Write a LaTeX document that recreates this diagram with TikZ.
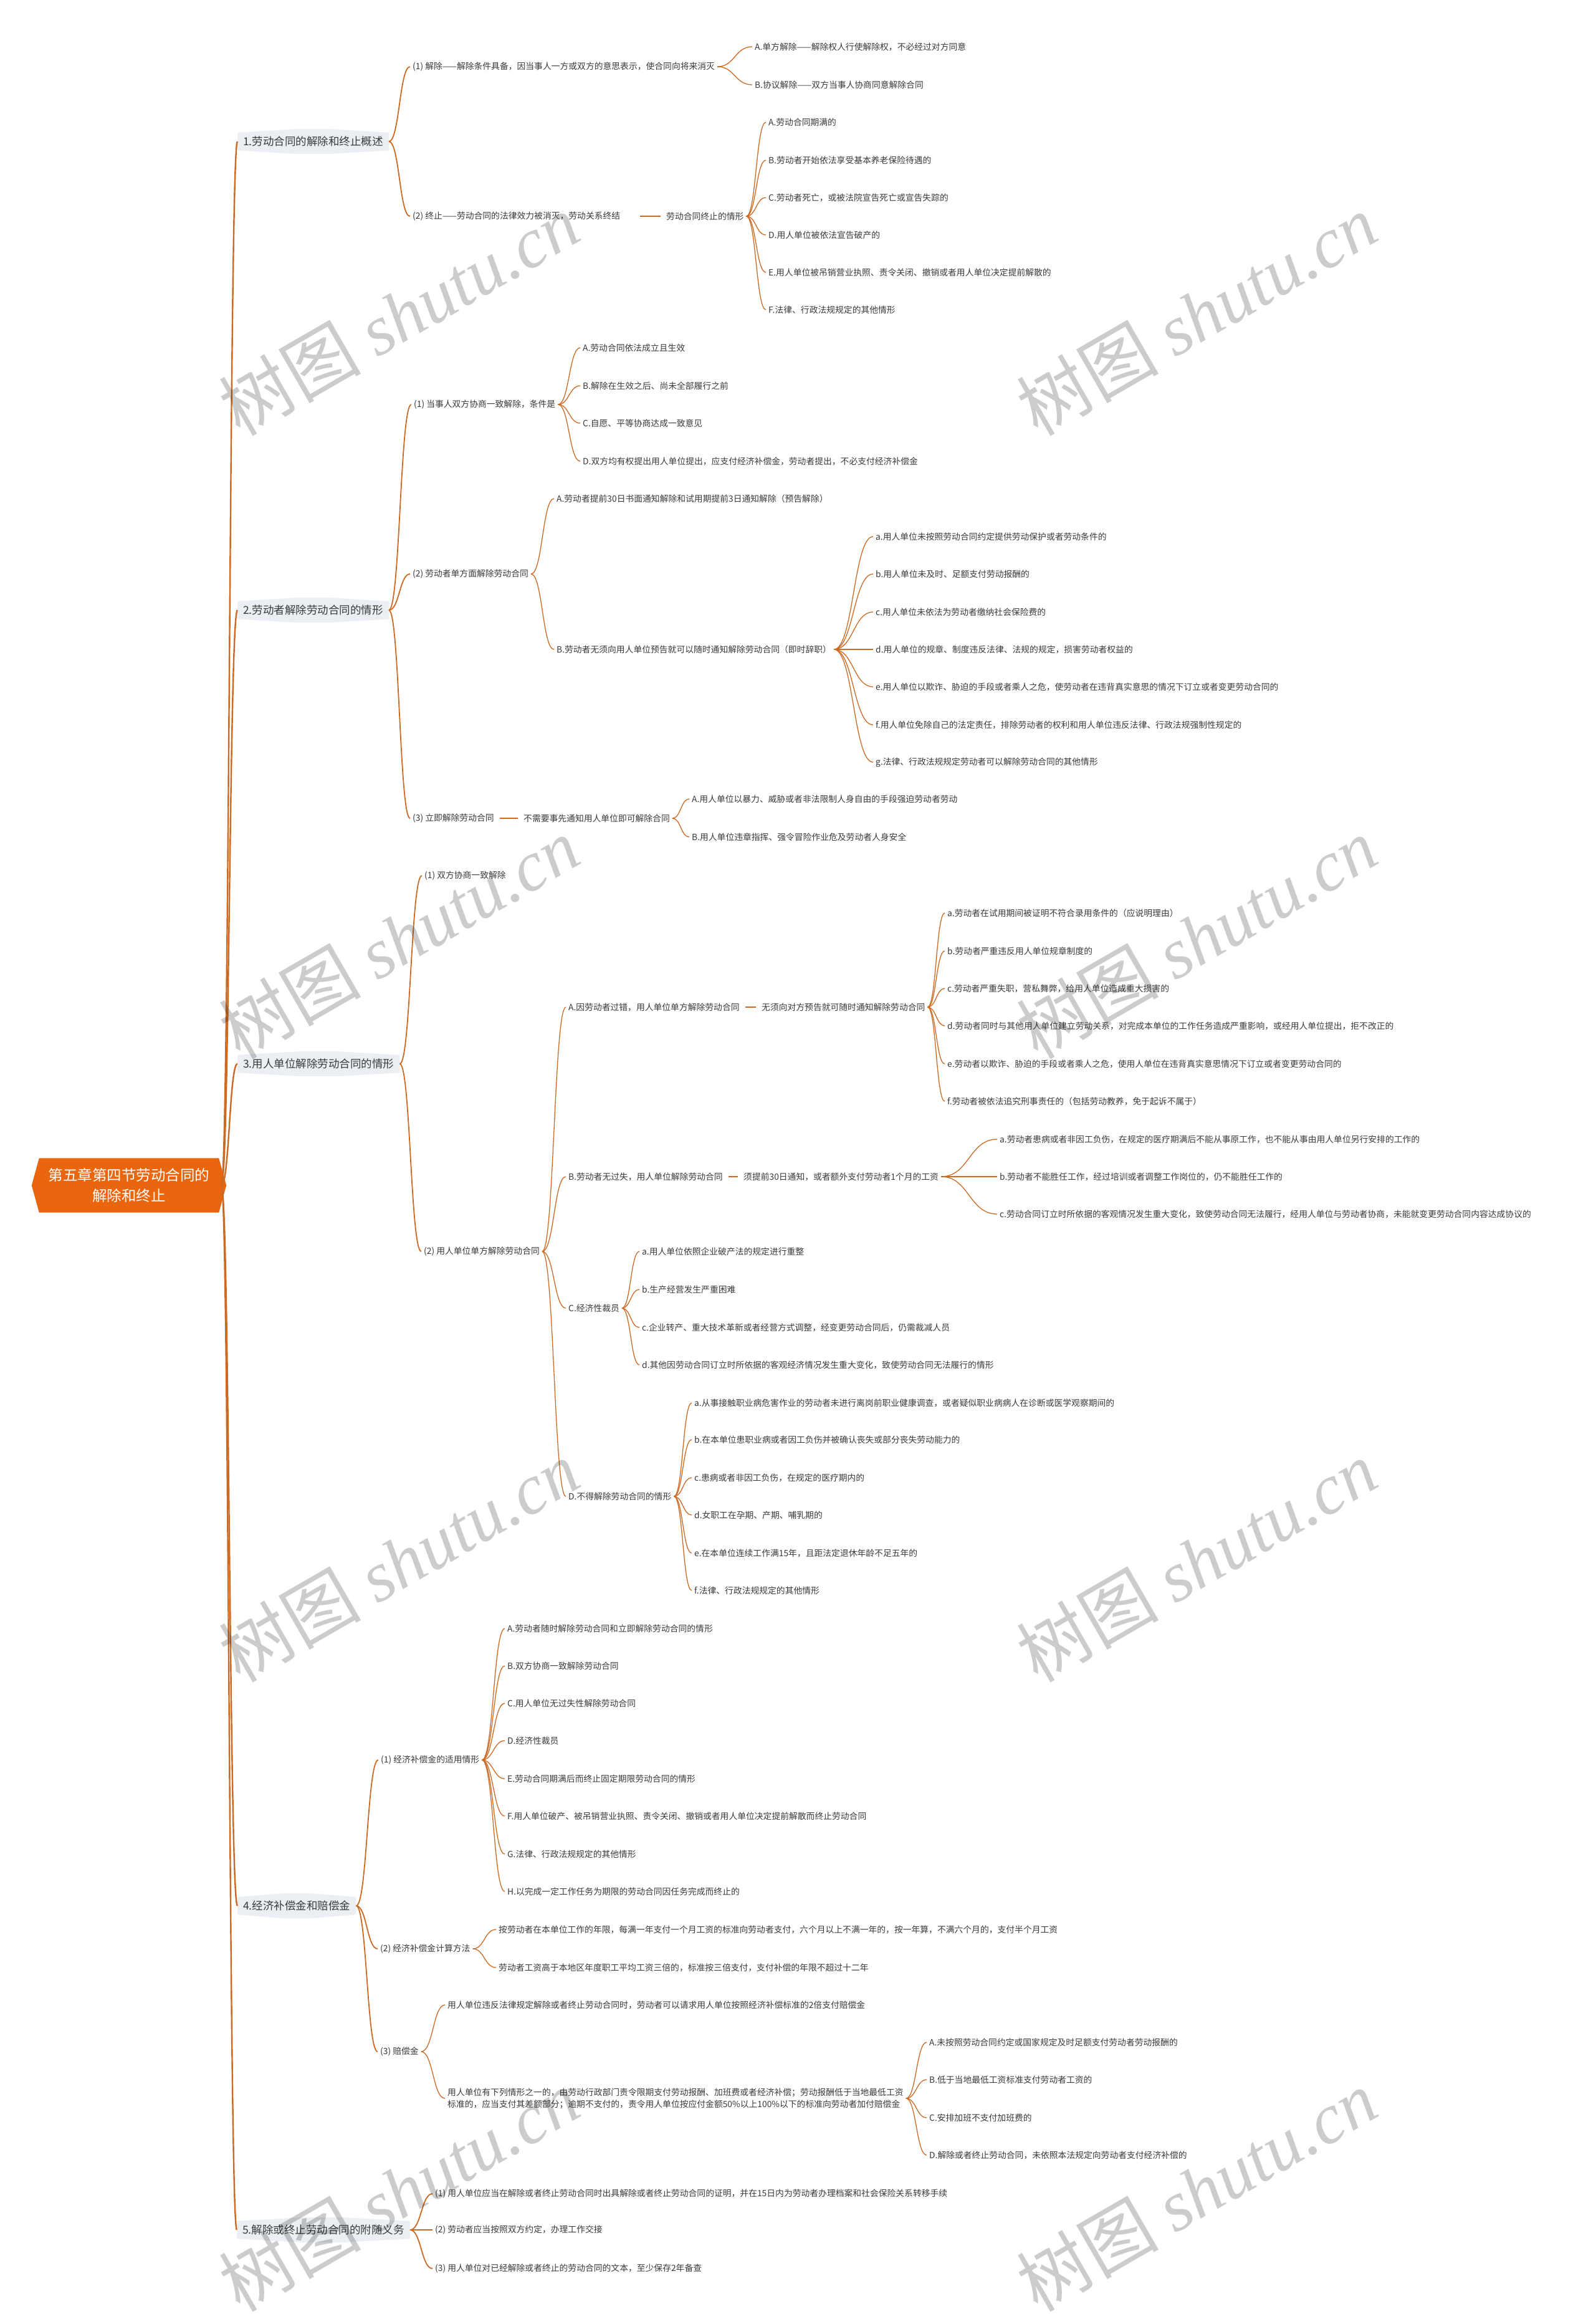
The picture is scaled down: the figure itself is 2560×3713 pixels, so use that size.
\documentclass[tikz,border=0pt]{standalone}
\usepackage{fontspec}
\setmainfont{Noto Sans CJK SC}
\newfontfamily\wmcjk{Noto Sans CJK SC}
\newfontfamily\wmlat{Liberation Serif}
\usetikzlibrary{calc,backgrounds}
\definecolor{lc}{HTML}{CC6A24}
\definecolor{txt}{HTML}{3A3A3A}
\definecolor{boxf}{HTML}{EBEFF4}
\definecolor{rootf}{HTML}{E9660E}
\tikzset{
  lf/.style={anchor=west, xshift=-4pt, inner xsep=4pt, inner ysep=2pt, text=txt, font=\fontsize{13.8}{17}\selectfont},
  lone/.style={anchor=west, xshift=-9pt, inner xsep=9pt, inner ysep=0pt, minimum height=40pt, text=txt, font=\fontsize{17.5}{21}\selectfont},
  rootn/.style={minimum width=296pt, minimum height=87pt, inner sep=0pt, align=center, text=white, font=\fontsize{23.5}{33}\selectfont},
  lnk/.style={draw=lc, line width=1.3pt},
  mlnk/.style={draw=lc, line width=1.8pt},
  tlnk/.style={draw=lc, line width=2.4pt},
  dsh/.style={draw=lc, line width=2.4pt, shorten >=5pt},
  wmk/.style={rotate=30, text=black, text opacity=0.2, font=\fontsize{114}{114}\selectfont},
}
\newcommand\mylk[3][lnk]{%
  \path ($(#2.east)!0.5!(#3.west)$) coordinate (lkm);
  \draw[#1] (#2.east) .. controls (lkm |- #2.east) and (lkm |- #3.west) .. (#3.west);}
\newcommand\mydash[3][5pt]{\draw[dsh, shorten <=#1] (#2.east) -- (#3.west);}
\newcommand\lonebox[1]{%
  \fill[boxf] ([yshift=-6pt]#1.north west) -- ($(#1.north west)!0.4!(#1.north east)$) -- ($(#1.north west)!0.6!(#1.north east)$) -- ([yshift=-6pt]#1.north east) -- ([yshift=6pt]#1.south east) -- ($(#1.south west)!0.6!(#1.south east)$) -- ($(#1.south west)!0.4!(#1.south east)$) -- ([yshift=6pt]#1.south west) -- cycle;}
\newcommand\wmark[2]{\node[wmk] at (#1,#2) {{\wmcjk 树图} {\wmlat\itshape shutu.cn}};}
\begin{document}
\begin{tikzpicture}[x=1pt,y=-1pt]
\begin{pgfonlayer}{background}
\fill[white] (0,0) rectangle (2560,3713);
\end{pgfonlayer}
\useasboundingbox (0,0) rectangle (2560,3713);

% root
\node[rootn] (r) at (207,1902) {第五章第四节劳动合同的\\解除和终止};

% ---------- section 1
\node[lone] (n1) at (390,227) {1.劳动合同的解除和终止概述};
\node[lf] (n1a) at (662,107) {(1) 解除——解除条件具备，因当事人一方或双方的意思表示，使合同向将来消灭};
\node[lf] (n1aA) at (1211,75) {A.单方解除——解除权人行使解除权，不必经过对方同意};
\node[lf] (n1aB) at (1211,136) {B.协议解除——双方当事人协商同意解除合同};
\node[lf] (n1b) at (662,347) {(2) 终止——劳动合同的法律效力被消灭，劳动关系终结};
\node[lf] (n1b1) at (1069,347) {劳动合同终止的情形};
\node[lf] (n1bA) at (1233,196) {A.劳动合同期满的};
\node[lf] (n1bB) at (1233,257) {B.劳动者开始依法享受基本养老保险待遇的};
\node[lf] (n1bC) at (1233,317) {C.劳动者死亡，或被法院宣告死亡或宣告失踪的};
\node[lf] (n1bD) at (1233,377) {D.用人单位被依法宣告破产的};
\node[lf] (n1bE) at (1233,437) {E.用人单位被吊销营业执照、责令关闭、撤销或者用人单位决定提前解散的};
\node[lf] (n1bF) at (1233,497) {F.法律、行政法规规定的其他情形};

% ---------- section 2
\node[lone] (n2) at (390,979) {2.劳动者解除劳动合同的情形};
\node[lf] (n2a) at (664,649) {(1) 当事人双方协商一致解除，条件是};
\node[lf] (n2aA) at (935,558) {A.劳动合同依法成立且生效};
\node[lf] (n2aB) at (935,619) {B.解除在生效之后、尚未全部履行之前};
\node[lf] (n2aC) at (935,679) {C.自愿、平等协商达成一致意见};
\node[lf] (n2aD) at (935,740) {D.双方均有权提出用人单位提出，应支付经济补偿金，劳动者提出，不必支付经济补偿金};
\node[lf] (n2b) at (662,921) {(2) 劳动者单方面解除劳动合同};
\node[lf] (n2bA) at (893,800) {A.劳动者提前30日书面通知解除和试用期提前3日通知解除（预告解除）};
\node[lf] (n2bB) at (893,1042) {B.劳动者无须向用人单位预告就可以随时通知解除劳动合同（即时辞职）};
\node[lf] (n2ba) at (1405,861) {a.用人单位未按照劳动合同约定提供劳动保护或者劳动条件的};
\node[lf] (n2bb) at (1405,921) {b.用人单位未及时、足额支付劳动报酬的};
\node[lf] (n2bc) at (1405,982) {c.用人单位未依法为劳动者缴纳社会保险费的};
\node[lf] (n2bd) at (1405,1042) {d.用人单位的规章、制度违反法律、法规的规定，损害劳动者权益的};
\node[lf] (n2be) at (1405,1102) {e.用人单位以欺诈、胁迫的手段或者乘人之危，使劳动者在违背真实意思的情况下订立或者变更劳动合同的};
\node[lf] (n2bf) at (1405,1163) {f.用人单位免除自己的法定责任，排除劳动者的权利和用人单位违反法律、行政法规强制性规定的};
\node[lf] (n2bg) at (1405,1223) {g.法律、行政法规规定劳动者可以解除劳动合同的其他情形};
\node[lf] (n2c) at (662,1313) {(3) 立即解除劳动合同};
\node[lf] (n2c1) at (840,1313) {不需要事先通知用人单位即可解除合同};
\node[lf] (n2cA) at (1110,1282) {A.用人单位以暴力、威胁或者非法限制人身自由的手段强迫劳动者劳动};
\node[lf] (n2cB) at (1110,1343) {B.用人单位违章指挥、强令冒险作业危及劳动者人身安全};

% ---------- section 3
\node[lone] (n3) at (390,1707) {3.用人单位解除劳动合同的情形};
\node[lf] (n3a) at (681,1405) {(1) 双方协商一致解除};
\node[lf] (n3b) at (680,2008) {(2) 用人单位单方解除劳动合同};
\node[lf] (n3A) at (912,1616) {A.因劳动者过错，用人单位单方解除劳动合同};
\node[lf] (n3A1) at (1222,1616) {无须向对方预告就可随时通知解除劳动合同};
\node[lf] (n3Aa) at (1520,1465) {a.劳动者在试用期间被证明不符合录用条件的（应说明理由）};
\node[lf] (n3Ab) at (1520,1526) {b.劳动者严重违反用人单位规章制度的};
\node[lf] (n3Ac) at (1520,1586) {c.劳动者严重失职，营私舞弊，给用人单位造成重大损害的};
\node[lf] (n3Ad) at (1520,1646) {d.劳动者同时与其他用人单位建立劳动关系，对完成本单位的工作任务造成严重影响，或经用人单位提出，拒不改正的};
\node[lf] (n3Ae) at (1520,1707) {e.劳动者以欺诈、胁迫的手段或者乘人之危，使用人单位在违背真实意思情况下订立或者变更劳动合同的};
\node[lf] (n3Af) at (1520,1767) {f.劳动者被依法追究刑事责任的（包括劳动教养，免于起诉不属于）};
\node[lf] (n3B) at (912,1888) {B.劳动者无过失，用人单位解除劳动合同};
\node[lf] (n3B1) at (1193,1888) {须提前30日通知，或者额外支付劳动者1个月的工资};
\node[lf] (n3Ba) at (1604,1828) {a.劳动者患病或者非因工负伤，在规定的医疗期满后不能从事原工作，也不能从事由用人单位另行安排的工作的};
\node[lf] (n3Bb) at (1604,1888) {b.劳动者不能胜任工作，经过培训或者调整工作岗位的，仍不能胜任工作的};
\node[lf] (n3Bc) at (1604,1948) {c.劳动合同订立时所依据的客观情况发生重大变化，致使劳动合同无法履行，经用人单位与劳动者协商，未能就变更劳动合同内容达成协议的};
\node[lf] (n3C) at (912,2099) {C.经济性裁员};
\node[lf] (n3Ca) at (1030,2008) {a.用人单位依照企业破产法的规定进行重整};
\node[lf] (n3Cb) at (1030,2069) {b.生产经营发生严重困难};
\node[lf] (n3Cc) at (1030,2130) {c.企业转产、重大技术革新或者经营方式调整，经变更劳动合同后，仍需裁减人员};
\node[lf] (n3Cd) at (1030,2190) {d.其他因劳动合同订立时所依据的客观经济情况发生重大变化，致使劳动合同无法履行的情形};
\node[lf] (n3D) at (912,2401) {D.不得解除劳动合同的情形};
\node[lf] (n3Da) at (1114,2251) {a.从事接触职业病危害作业的劳动者未进行离岗前职业健康调查，或者疑似职业病病人在诊断或医学观察期间的};
\node[lf] (n3Db) at (1114,2310) {b.在本单位患职业病或者因工负伤并被确认丧失或部分丧失劳动能力的};
\node[lf] (n3Dc) at (1114,2371) {c.患病或者非因工负伤，在规定的医疗期内的};
\node[lf] (n3Dd) at (1114,2431) {d.女职工在孕期、产期、哺乳期的};
\node[lf] (n3De) at (1114,2492) {e.在本单位连续工作满15年，且距法定退休年龄不足五年的};
\node[lf] (n3Df) at (1114,2552) {f.法律、行政法规规定的其他情形};

% ---------- section 4
\node[lone] (n4) at (390,3058) {4.经济补偿金和赔偿金};
\node[lf] (n4a) at (611,2824) {(1) 经济补偿金的适用情形};
\node[lf] (n4aA) at (814,2613) {A.劳动者随时解除劳动合同和立即解除劳动合同的情形};
\node[lf] (n4aB) at (814,2673) {B.双方协商一致解除劳动合同};
\node[lf] (n4aC) at (814,2733) {C.用人单位无过失性解除劳动合同};
\node[lf] (n4aD) at (814,2793) {D.经济性裁员};
\node[lf] (n4aE) at (814,2854) {E.劳动合同期满后而终止固定期限劳动合同的情形};
\node[lf] (n4aF) at (814,2914) {F.用人单位破产、被吊销营业执照、责令关闭、撤销或者用人单位决定提前解散而终止劳动合同};
\node[lf] (n4aG) at (814,2975) {G.法律、行政法规规定的其他情形};
\node[lf] (n4aH) at (814,3035) {H.以完成一定工作任务为期限的劳动合同因任务完成而终止的};
\node[lf] (n4b) at (610,3127) {(2) 经济补偿金计算方法};
\node[lf] (n4b1) at (800,3096) {按劳动者在本单位工作的年限，每满一年支付一个月工资的标准向劳动者支付，六个月以上不满一年的，按一年算，不满六个月的，支付半个月工资};
\node[lf] (n4b2) at (800,3157) {劳动者工资高于本地区年度职工平均工资三倍的，标准按三倍支付，支付补偿的年限不超过十二年};
\node[lf] (n4c) at (610,3292) {(3) 赔偿金};
\node[lf] (n4c1) at (718,3217) {用人单位违反法律规定解除或者终止劳动合同时，劳动者可以请求用人单位按照经济补偿标准的2倍支付赔偿金};
\node[lf, align=left, font=\fontsize{13.8}{19}\selectfont] (n4c2) at (718,3367) {用人单位有下列情形之一的，由劳动行政部门责令限期支付劳动报酬、加班费或者经济补偿；劳动报酬低于当地最低工资\\标准的，应当支付其差额部分；逾期不支付的，责令用人单位按应付金额50\%以上100\%以下的标准向劳动者加付赔偿金};
\node[lf] (n4cA) at (1491,3277) {A.未按照劳动合同约定或国家规定及时足额支付劳动者劳动报酬的};
\node[lf] (n4cB) at (1491,3337) {B.低于当地最低工资标准支付劳动者工资的};
\node[lf] (n4cC) at (1491,3398) {C.安排加班不支付加班费的};
\node[lf] (n4cD) at (1491,3458) {D.解除或者终止劳动合同，未依照本法规定向劳动者支付经济补偿的};

% ---------- section 5
\node[lone] (n5) at (389,3578) {5.解除或终止劳动合同的附随义务};
\node[lf] (n5a) at (698,3520) {(1) 用人单位应当在解除或者终止劳动合同时出具解除或者终止劳动合同的证明，并在15日内为劳动者办理档案和社会保险关系转移手续};
\node[lf] (n5b) at (698,3578) {(2) 劳动者应当按照双方约定，办理工作交接};
\node[lf] (n5c) at (698,3640) {(3) 用人单位对已经解除或者终止的劳动合同的文本，至少保存2年备查};

% ---------- backgrounds of boxes
\begin{pgfonlayer}{background}
\fill[rootf] ([xshift=-8pt]r.west) -- ([xshift=4pt]r.north west) -- ([xshift=-4pt]r.north east) -- ([xshift=8pt]r.east) -- ([xshift=-4pt]r.south east) -- ([xshift=4pt]r.south west) -- cycle;
\lonebox{n1}\lonebox{n2}\lonebox{n3}\lonebox{n4}\lonebox{n5}
\end{pgfonlayer}

% ---------- connectors
\foreach \t in {n1,n2,n3,n4,n5}{\mylk[tlnk]{r}{\t}}
% section 1
\mylk[mlnk]{n1}{n1a}\mylk[mlnk]{n1}{n1b}
\mylk{n1a}{n1aA}\mylk{n1a}{n1aB}
\mydash[28pt]{n1b}{n1b1}
\foreach \t in {n1bA,n1bB,n1bC,n1bD,n1bE,n1bF}{\mylk{n1b1}{\t}}
% section 2
\mylk[mlnk]{n2}{n2a}\mylk[mlnk]{n2}{n2b}\mylk[mlnk]{n2}{n2c}
\foreach \t in {n2aA,n2aB,n2aC,n2aD}{\mylk{n2a}{\t}}
\mylk{n2b}{n2bA}\mylk{n2b}{n2bB}
\foreach \t in {n2ba,n2bb,n2bc,n2bd,n2be,n2bf,n2bg}{\mylk{n2bB}{\t}}
\mydash{n2c}{n2c1}
\mylk{n2c1}{n2cA}\mylk{n2c1}{n2cB}
% section 3
\mylk[mlnk]{n3}{n3a}\mylk[mlnk]{n3}{n3b}
\foreach \t in {n3A,n3B,n3C,n3D}{\mylk{n3b}{\t}}
\mydash{n3A}{n3A1}
\foreach \t in {n3Aa,n3Ab,n3Ac,n3Ad,n3Ae,n3Af}{\mylk{n3A1}{\t}}
\mydash{n3B}{n3B1}
\foreach \t in {n3Ba,n3Bb,n3Bc}{\mylk{n3B1}{\t}}
\foreach \t in {n3Ca,n3Cb,n3Cc,n3Cd}{\mylk{n3C}{\t}}
\foreach \t in {n3Da,n3Db,n3Dc,n3Dd,n3De,n3Df}{\mylk{n3D}{\t}}
% section 4
\mylk[mlnk]{n4}{n4a}\mylk[mlnk]{n4}{n4b}\mylk[mlnk]{n4}{n4c}
\foreach \t in {n4aA,n4aB,n4aC,n4aD,n4aE,n4aF,n4aG,n4aH}{\mylk{n4a}{\t}}
\mylk{n4b}{n4b1}\mylk{n4b}{n4b2}
\mylk{n4c}{n4c1}\mylk{n4c}{n4c2}
\foreach \t in {n4cA,n4cB,n4cC,n4cD}{\mylk{n4c2}{\t}}
% section 5
\mylk[mlnk]{n5}{n5a}\mylk[mlnk]{n5}{n5b}\mylk[mlnk]{n5}{n5c}

% ---------- watermarks
\wmark{640}{505}\wmark{1920}{505}
\wmark{640}{1505}\wmark{1920}{1505}
\wmark{640}{2505}\wmark{1920}{2505}
\wmark{640}{3515}\wmark{1920}{3515}
\end{tikzpicture}
\end{document}
